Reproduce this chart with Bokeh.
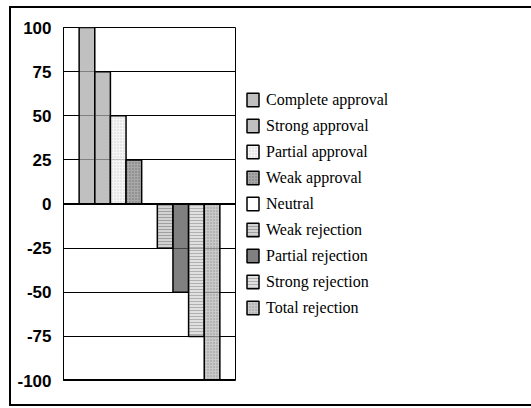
from bokeh.plotting import figure
from bokeh.models import Range1d, FixedTicker, Legend, LegendItem, Span
from bokeh.embed import file_html
from bokeh.resources import INLINE

categories = ["Complete approval", "Strong approval", "Partial approval", "Weak approval",
              "Neutral", "Weak rejection", "Partial rejection", "Strong rejection", "Total rejection"]
values = [100, 75, 50, 25, 0, -25, -50, -75, -100]
tick_values = [-100, -75, -50, -25, 0, 25, 50, 75, 100]
tick_labels = ["-100", "-75", "-50", "-25", "0", "25", "50", "75", "100"]

fills = ["#ababab", "#ababab", "#f2f2f2", "#8c8c8c", "#ffffff", "#c4c4c4", "#555555", "#d6d6d6", "#b8b8b8"]
hatches = [" ", " ", "dot", "dot", " ", "horizontal_line", " ", "horizontal_line", "dot"]
hatch_colors = ["#999999", "#999999", "#d0d0d0", "#707070", "#ffffff", "#a0a0a0", "#444444", "#b0b0b0", "#909090"]

p = figure(frame_width=172, frame_height=353, output_backend="svg", toolbar_location=None,
           x_range=Range1d(-0.5, 10.5), y_range=Range1d(-100, 100),
           min_border_left=52, min_border_top=19, min_border_bottom=24, min_border_right=10)
p.styles = {"border": "2px solid black", "margin-left": "9px", "margin-top": "6px"}

p.xaxis.visible = False
p.xgrid.visible = False
p.ygrid.grid_line_color = "black"
p.ygrid.grid_line_width = 1
p.yaxis.ticker = FixedTicker(ticks=tick_values)
p.yaxis.major_label_overrides = {v: s for v, s in zip(tick_values, tick_labels)}
p.yaxis.major_tick_line_color = None
p.yaxis.minor_tick_line_color = None
p.yaxis.axis_line_color = "black"
p.yaxis.major_label_text_font = "Liberation Sans"
p.yaxis.major_label_text_font_style = "bold"
p.yaxis.major_label_text_font_size = "17px"
p.yaxis.major_label_text_color = "black"
p.yaxis.major_label_standoff = 6
p.outline_line_color = "black"
p.outline_line_width = 1

items = []
for i, (cat, v) in enumerate(zip(categories, values)):
    r = p.vbar(x=[i + 1], top=[v], bottom=[0], width=1,
               fill_color=fills[i], fill_alpha=0.75,
               hatch_pattern=hatches[i], hatch_color=hatch_colors[i], hatch_scale=3, hatch_weight=1,
               line_color="black", line_width=1.5)
    items.append(LegendItem(label=cat, renderers=[r]))

p.add_layout(Span(location=0, dimension="width", line_color="black", line_width=2))
p.add_layout(Span(location=-100, dimension="width", line_color="black", line_width=3))

legend = Legend(items=items, location="center_left", border_line_color=None,
                background_fill_alpha=0, label_text_font="Liberation Serif",
                label_text_font_size="16px", label_text_color="black",
                glyph_width=15, glyph_height=17, label_height=17, spacing=8,
                label_standoff=6, padding=0, margin=10)
p.add_layout(legend, "right")
p.min_border_right = 128

open("out.html", "w").write(file_html(p, INLINE))
